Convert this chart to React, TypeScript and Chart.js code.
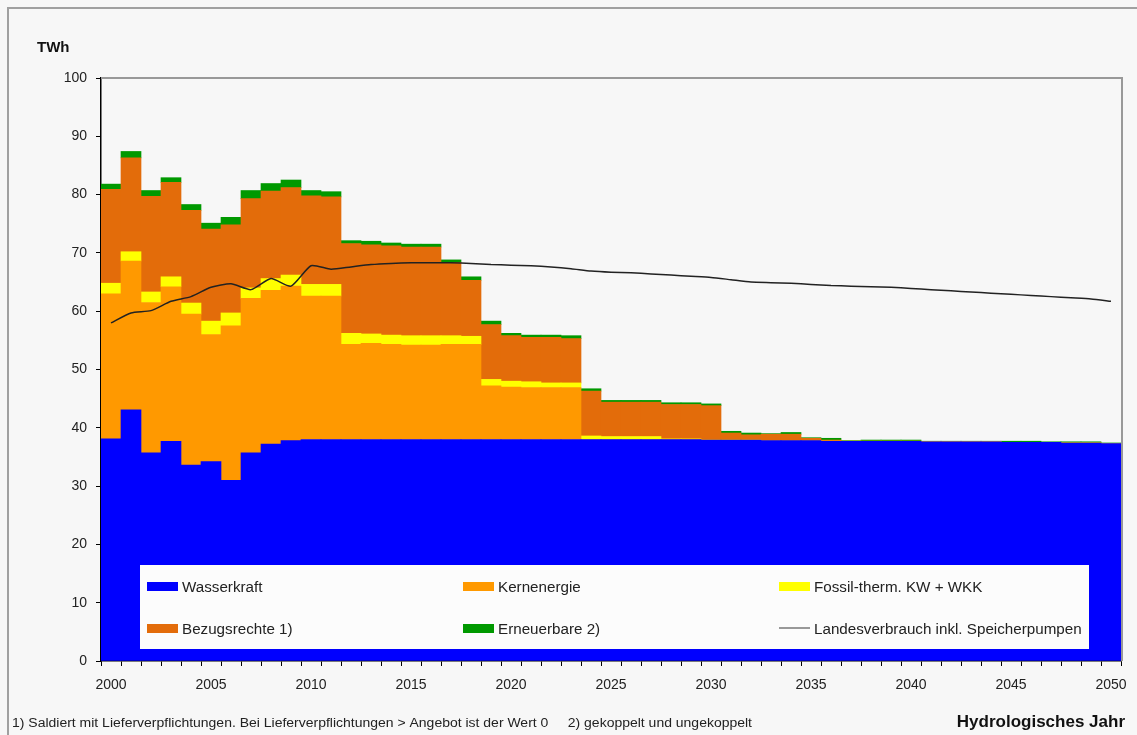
import React, { useEffect, useRef } from 'react';
import { Chart, registerables } from 'chart.js';

Chart.register(...registerables);

const years = [
  '2000', '2001', '2002', '2003', '2004', '2005', '2006', '2007', '2008', '2009',
  '2010', '2011', '2012', '2013', '2014', '2015', '2016', '2017', '2018', '2019',
  '2020', '2021', '2022', '2023', '2024', '2025', '2026', '2027', '2028', '2029',
  '2030', '2031', '2032', '2033', '2034', '2035', '2036', '2037', '2038', '2039',
  '2040', '2041', '2042', '2043', '2044', '2045', '2046', '2047', '2048', '2049',
  '2050',
];

const wasserkraft = [
  38.1, 43.1, 35.7, 37.7, 33.6, 34.2, 31.0, 35.7, 37.2, 37.8,
  38.0, 38.0, 38.0, 38.0, 38.0, 38.0, 38.0, 38.0, 38.0, 38.0,
  38.0, 38.0, 38.0, 38.0, 38.0, 38.0, 38.0, 38.0, 38.0, 38.0,
  37.9, 37.9, 37.9, 37.8, 37.8, 37.8, 37.7, 37.7, 37.7, 37.7,
  37.7, 37.6, 37.6, 37.6, 37.6, 37.5, 37.5, 37.5, 37.4, 37.4,
  37.3,
];

const kernenergie = [
  24.9, 25.5, 25.8, 26.5, 25.9, 21.8, 26.5, 26.5, 26.4, 26.5,
  24.6, 24.6, 16.3, 16.5, 16.3, 16.2, 16.2, 16.3, 16.3, 9.2,
  9.0, 8.9, 8.9, 8.9, 0, 0, 0, 0, 0, 0,
  0, 0, 0, 0, 0, 0, 0, 0, 0, 0,
  0, 0, 0, 0, 0, 0, 0, 0, 0, 0,
  0,
];

const fossil = [
  1.8, 1.6, 1.8, 1.7, 1.9, 2.3, 2.2, 1.8, 2.0, 1.9,
  2.0, 2.0, 1.9, 1.6, 1.6, 1.6, 1.6, 1.5, 1.4, 1.1,
  1.0, 1.0, 0.8, 0.8, 0.6, 0.5, 0.5, 0.5, 0.1, 0.1,
  0, 0, 0, 0, 0, 0, 0, 0, 0, 0,
  0, 0, 0, 0, 0, 0, 0, 0, 0, 0,
  0,
];

const bezugsrechte = [
  16.1, 16.1, 16.4, 16.2, 15.9, 15.8, 15.1, 15.3, 15.0, 15.0,
  15.2, 15.0, 15.4, 15.3, 15.3, 15.2, 15.2, 12.6, 9.6, 9.4,
  7.8, 7.6, 7.8, 7.6, 7.7, 5.9, 5.9, 5.9, 5.9, 5.9,
  5.9, 1.2, 0.9, 1.1, 1.1, 0.4, 0.2, 0, 0, 0,
  0, 0, 0, 0, 0, 0, 0, 0, 0, 0,
  0,
];

const erneuerbare = [
  0.9, 1.1, 1.0, 0.8, 1.0, 1.0, 1.3, 1.4, 1.3, 1.3,
  0.9, 0.9, 0.5, 0.6, 0.5, 0.5, 0.5, 0.4, 0.6, 0.6,
  0.4, 0.4, 0.4, 0.5, 0.4, 0.3, 0.3, 0.3, 0.3, 0.3,
  0.3, 0.3, 0.3, 0.1, 0.3, 0.1, 0.3, 0.1, 0.2, 0.2,
  0.2, 0.1, 0.1, 0.1, 0.1, 0.2, 0.2, 0.1, 0.2, 0.2,
  0.1,
];

const landesverbrauch = [
  58.0, 59.7, 60.1, 61.7, 62.5, 64.1, 64.7, 63.7, 65.6, 64.3,
  67.8, 67.2, 67.6, 68.0, 68.2, 68.3, 68.3, 68.3, 68.2, 68.0,
  67.9, 67.8, 67.6, 67.3, 66.9, 66.7, 66.6, 66.4, 66.2, 66.0,
  65.8, 65.4, 65.0, 64.9, 64.8, 64.6, 64.4, 64.3, 64.2, 64.1,
  63.9, 63.7, 63.5, 63.3, 63.1, 62.9, 62.7, 62.5, 62.3, 62.1,
  61.7,
];

const yTicks = [0, 10, 20, 30, 40, 50, 60, 70, 80, 90, 100];

const seriesNames = [
  'Wasserkraft',
  'Kernenergie',
  'Fossil-therm. KW + WKK',
  'Bezugsrechte 1)',
  'Erneuerbare 2)',
  'Landesverbrauch inkl. Speicherpumpen',
];

const colors = ['#0000FF', '#FF9900', '#FFFF00', '#E36C0A', '#009900', '#222222'];

const FONT = '"Liberation Sans", Arial, sans-serif';

const backgroundPlugin = {
  id: 'bgFrame',
  beforeDraw(chart: any) {
    const ctx = chart.ctx;
    ctx.save();
    ctx.fillStyle = '#f7f7f7';
    ctx.fillRect(0, 0, chart.width, chart.height);
    ctx.strokeStyle = '#a0a0a0';
    ctx.lineWidth = 2;
    ctx.strokeRect(8, 8, chart.width + 20, chart.height + 20);
    ctx.restore();
  },
  afterDatasetsDraw(chart: any) {
    const { ctx, chartArea } = chart;
    ctx.save();
    ctx.strokeStyle = '#999999';
    ctx.lineWidth = 2;
    ctx.beginPath();
    ctx.moveTo(chartArea.left, chartArea.top);
    ctx.lineTo(chartArea.right + 1, chartArea.top);
    ctx.lineTo(chartArea.right + 1, chartArea.bottom);
    ctx.stroke();
    ctx.restore();
  },
};

const legendPlugin = {
  id: 'innerLegend',
  afterDatasetsDraw(chart: any) {
    const ctx = chart.ctx;
    ctx.save();
    ctx.fillStyle = '#fcfcfc';
    ctx.fillRect(140, 565, 949, 84);
    const cols = [147, 463, 779];
    const rows = [587, 629];
    ctx.font = `15.2px ${FONT}`;
    ctx.textBaseline = 'middle';
    ctx.textAlign = 'left';
    seriesNames.forEach((name, i) => {
      const x = cols[i % 3];
      const y = rows[Math.floor(i / 3)];
      if (i === 5) {
        ctx.strokeStyle = '#999999';
        ctx.lineWidth = 2;
        ctx.beginPath();
        ctx.moveTo(x, y - 1);
        ctx.lineTo(x + 31, y - 1);
        ctx.stroke();
      } else {
        ctx.fillStyle = colors[i];
        ctx.fillRect(x, y - 5, 31, 9);
      }
      ctx.fillStyle = '#222222';
      ctx.fillText(name, x + 35, y + 1);
    });
    ctx.restore();
  },
};

const textPlugin = {
  id: 'extraText',
  afterDraw(chart: any) {
    const ctx = chart.ctx;
    ctx.save();
    ctx.fillStyle = '#111111';
    ctx.textBaseline = 'middle';
    ctx.font = `bold 15px ${FONT}`;
    ctx.textAlign = 'left';
    ctx.fillText('TWh', 37, 48);
    ctx.textAlign = 'right';
    ctx.font = `bold 17px ${FONT}`;
    ctx.fillText('Hydrologisches Jahr', 1125, 722);
    ctx.textAlign = 'left';
    ctx.font = `12px ${FONT}`;
    ctx.fillStyle = '#222222';
    const note =
      '1) Saldiert mit Lieferverpflichtungen. Bei Lieferverpflichtungen > Angebot ist der Wert 0     2) gekoppelt und ungekoppelt';
    const w = ctx.measureText(note).width;
    ctx.translate(12, 724);
    ctx.scale(740 / w, 1);
    ctx.fillText(note, 0, 0);
    ctx.restore();
  },
};

export default function App() {
  const canvasRef = useRef<HTMLCanvasElement | null>(null);

  useEffect(() => {
    if (!canvasRef.current) return;
    const barSeries = [wasserkraft, kernenergie, fossil, bezugsrechte, erneuerbare];
    const datasets: any[] = barSeries.map((data, i) => ({
      type: 'bar',
      label: seriesNames[i],
      data,
      backgroundColor: colors[i],
      borderWidth: 0,
      barPercentage: 1,
      categoryPercentage: 1,
      stack: 'supply',
      order: 1,
    }));
    datasets.push({
      type: 'line',
      label: seriesNames[5],
      data: landesverbrauch,
      borderColor: colors[5],
      borderWidth: 1.5,
      pointRadius: 0,
      tension: 0.2,
      fill: false,
      stack: 'demand',
      order: 0,
    });

    const chart = new Chart(canvasRef.current, {
      type: 'bar',
      data: { labels: years, datasets },
      options: {
        responsive: false,
        animation: false,
        devicePixelRatio: 1,
        layout: { padding: { left: 0, right: 16, top: 78, bottom: 0 } },
        plugins: {
          legend: { display: false },
          tooltip: { enabled: false },
          title: { display: false },
        },
        scales: {
          x: {
            type: 'category',
            stacked: true,
            offset: true,
            grid: {
              offset: true,
              drawOnChartArea: false,
              drawTicks: true,
              tickLength: 5,
              color: '#000000',
              lineWidth: 1,
            },
            border: { color: '#000000', width: 1.5 },
            ticks: {
              autoSkip: false,
              maxRotation: 0,
              minRotation: 0,
              padding: 11,
              color: '#222222',
              font: { family: FONT, size: 14 },
              callback: (_v: any, i: number) => (i % 5 === 0 ? years[i] : ''),
            },
            afterFit: (s: any) => {
              s.height = 74;
              s.paddingLeft = 0;
              s.paddingRight = 0;
            },
          },
          y: {
            stacked: true,
            min: yTicks[0],
            max: yTicks[yTicks.length - 1],
            afterBuildTicks: (s: any) => {
              s.ticks = yTicks.map((v) => ({ value: v }));
            },
            grid: {
              drawOnChartArea: false,
              drawTicks: true,
              tickLength: 5,
              color: '#000000',
            },
            border: { color: '#000000', width: 1.5 },
            ticks: {
              padding: 9,
              color: '#222222',
              font: { family: FONT, size: 14 },
            },
            afterFit: (s: any) => {
              s.width = 101;
              s.paddingTop = 0;
              s.paddingBottom = 0;
            },
          },
        },
      },
      plugins: [backgroundPlugin, legendPlugin, textPlugin],
    } as any);

    return () => chart.destroy();
  }, []);

  return (
    <div style={{ position: 'fixed', left: 0, top: 0, width: 1137, height: 735 }}>
      <canvas ref={canvasRef} width={1137} height={735} style={{ width: 1137, height: 735 }} />
    </div>
  );
}
